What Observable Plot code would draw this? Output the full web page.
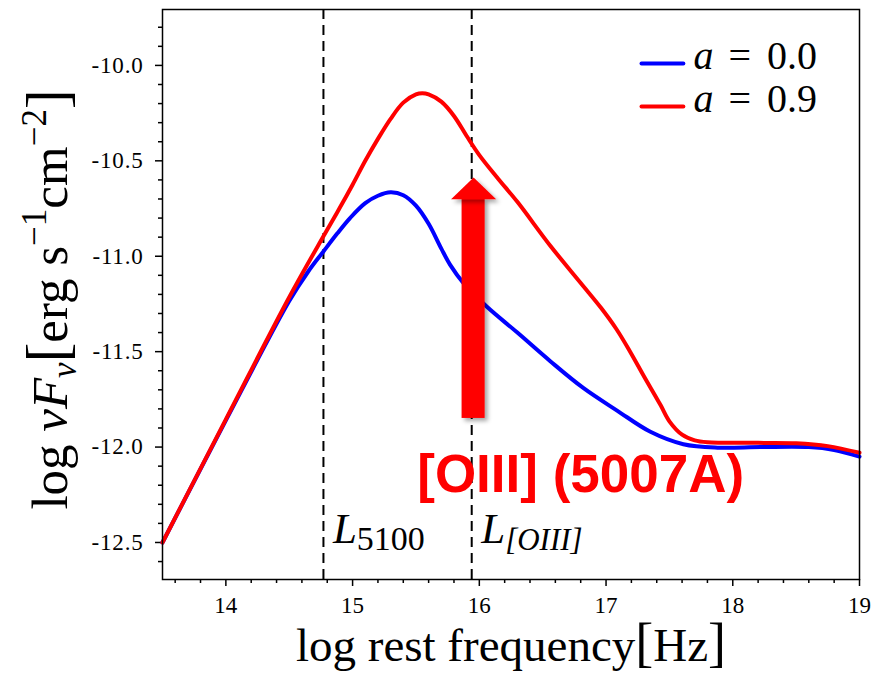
<!DOCTYPE html>
<html><head><meta charset="utf-8">
<script src="https://cdn.jsdelivr.net/npm/d3@7"></script>
<script src="https://cdn.jsdelivr.net/npm/@observablehq/plot@0.6"></script>
<style>body{margin:0;background:#fff;} #chart{width:875px;height:677px;}</style>
</head><body><div id="chart"></div>
<script>
// ---- data ----
const blueX = [13.5, 14.0, 14.5, 14.65, 14.77, 14.88, 14.98, 15.1, 15.2, 15.3, 15.4, 15.5, 15.6, 15.7, 15.77, 15.88, 16.06, 16.3, 16.56, 16.82, 17.09, 17.35, 17.61, 17.88, 18.22, 18.6, 18.8, 19.0];
const blueY = [-12.5, -11.86, -11.235, -11.08, -10.975, -10.88, -10.80, -10.722, -10.683, -10.665, -10.68, -10.735, -10.83, -10.96, -11.045, -11.145, -11.265, -11.40, -11.55, -11.69, -11.81, -11.92, -11.985, -12.003, -12.0, -12.0, -12.015, -12.05];
const redX = [13.5, 14.0, 14.5, 14.77, 14.9, 15.0, 15.1, 15.2, 15.3, 15.4, 15.5, 15.55, 15.6, 15.7, 15.8, 15.9, 16.0, 16.15, 16.3, 16.56, 16.8, 16.96, 17.08, 17.19, 17.3, 17.43, 17.5, 17.6, 17.7, 17.8, 18.2, 18.5, 18.75, 19.0];
const redY = [-12.5, -11.855, -11.215, -10.895, -10.745, -10.625, -10.50, -10.385, -10.28, -10.195, -10.152, -10.146, -10.152, -10.19, -10.265, -10.37, -10.47, -10.595, -10.715, -10.945, -11.14, -11.27, -11.38, -11.50, -11.63, -11.78, -11.865, -11.935, -11.965, -11.975, -11.978, -11.98, -11.995, -12.03];
const seriesNames = ["a = 0.0", "a = 0.9"];
const seriesColors = ["#0000ff", "#ff0000"];
const xTicks = [14, 15, 16, 17, 18, 19];
const xMinorTicks = [13.6, 13.8, 14.2, 14.4, 14.6, 14.8, 15.2, 15.4, 15.6, 15.8, 16.2, 16.4, 16.6, 16.8, 17.2, 17.4, 17.6, 17.8, 18.2, 18.4, 18.6, 18.8];
const yTicks = [-12.5, -12.0, -11.5, -11.0, -10.5, -10.0];
const yMinorTicks = [-12.6, -12.4, -12.3, -12.2, -12.1, -11.9, -11.8, -11.7, -11.6, -11.4, -11.3, -11.2, -11.1, -10.9, -10.8, -10.7, -10.6, -10.4, -10.3, -10.2, -10.1, -9.9, -9.8];
const markerLines = [14.77, 15.94];
const markerNames = ["L5100", "L[OIII]"];
const annotationText = ["[OIII] (5007A)"];
const xLabel = "log rest frequency[Hz]";
const yLabel = "log νFν[erg s−1cm−2]";

// ---- layout constants (annotation geometry) ----
const arrowSpec = {x: 15.955, yBase: -11.85, yHeadBase: -10.702, yTip: -10.587, shaftHalf: 0.091, headHalf: 0.178};
const legendLineX = [17.28, 17.61], legendTextX = 17.69;
const legendLineY = [-9.9895, -10.215], legendTextY = [-10.021, -10.246];

// rich text definitions (plain text -> styled segments)
const rich = {
  [yLabel]: [{t: "log "}, {t: "νF", italic: true}, {t: "ν", italic: true, size: 35, shift: 9}, {t: "[", size: 59}, {t: "erg s"}, {t: "−1", size: 35, shift: -21}, {t: "cm"}, {t: "−2", size: 35, shift: -21}, {t: "]", size: 59}],
  [xLabel]: [{t: "log rest frequency"}, {t: "[", size: 54}, {t: "Hz"}, {t: "]", size: 54}],
  "L5100": [{t: "L", italic: true}, {t: "5100", size: 34, shift: 7}],
  "L[OIII]": [{t: "L", italic: true}, {t: "[OIII]", italic: true, size: 31, shift: 7}],
  "a = 0.0": [{t: "a", italic: true}, {t: " "}, {t: "=", dx: 5}, {t: " "}, {t: "0.0", dx: 6}],
  "a = 0.9": [{t: "a", italic: true}, {t: " "}, {t: "=", dx: 5}, {t: " "}, {t: "0.9", dx: 6}]
};

const blue = blueX.map((x, i) => ({x, y: blueY[i]}));
const red = redX.map((x, i) => ({x, y: redY[i]}));
const shaft = [{x1: arrowSpec.x - arrowSpec.shaftHalf, x2: arrowSpec.x + arrowSpec.shaftHalf, y1: arrowSpec.yBase, y2: arrowSpec.yHeadBase + 0.005}];
const headPts = [
  {x: arrowSpec.x - arrowSpec.headHalf, y: arrowSpec.yHeadBase},
  {x: arrowSpec.x, y: arrowSpec.yTip},
  {x: arrowSpec.x + arrowSpec.headHalf, y: arrowSpec.yHeadBase}
];
const markerLabelData = markerLines.map((x, i) => ({x: x + 0.075, y: -12.505, t: markerNames[i]}));
const legendLines = seriesNames.flatMap((n, i) => legendLineX.map(x => ({x, y: legendLineY[i], s: n, c: seriesColors[i]})));
const legendText = seriesNames.map((n, i) => ({x: legendTextX, y: legendTextY[i], t: n}));

const serif = "'Liberation Serif', 'Times New Roman', serif";
const plot = Plot.plot({
  width: 875, height: 677,
  marginLeft: 162, marginRight: 16, marginTop: 9, marginBottom: 98,
  style: {fontFamily: serif, fontSize: "22px", background: "white", color: "black"},
  x: {domain: [13.5, 19]},
  y: {domain: [-12.694, -9.707]},
  marks: [
    Plot.axisX(xMinorTicks, {tickSize: 4, strokeWidth: 1.5, tickFormat: () => "", label: null}),
    Plot.axisX(xTicks, {tickSize: 7, strokeWidth: 1.5, tickPadding: 10, tickFormat: d => String(d), label: null, fontSize: 23}),
    Plot.axisY(yMinorTicks, {tickSize: 4, strokeWidth: 1.5, tickFormat: () => "", label: null}),
    Plot.axisY(yTicks, {tickSize: 7, strokeWidth: 1.5, tickPadding: 12, tickFormat: d => d.toFixed(1), label: null, fontSize: 23}),
    Plot.ruleX(markerLines, {stroke: "black", strokeWidth: 2, strokeDasharray: "10,6"}),
    Plot.line(blue, {x: "x", y: "y", stroke: seriesColors[0], strokeWidth: 4, curve: "catmull-rom"}),
    Plot.line(red, {x: "x", y: "y", stroke: seriesColors[1], strokeWidth: 4, curve: "catmull-rom"}),
    Plot.rect(shaft, {x1: "x1", x2: "x2", y1: "y1", y2: "y2", fill: "red"}),
    Plot.line(headPts, {x: "x", y: "y", fill: "red", stroke: "none", curve: "linear-closed"}),
    Plot.text(annotationText, {x: 16.80, y: -12.238, text: d => d, fill: "red", fontSize: 53, fontWeight: "bold", fontFamily: "'Liberation Sans', Arial, sans-serif", textAnchor: "middle", lineAnchor: "bottom"}),
    Plot.text(markerLabelData, {x: "x", y: "y", text: "t", fontSize: 43, textAnchor: "start", lineAnchor: "bottom", fill: "black"}),
    Plot.line(legendLines, {x: "x", y: "y", z: "s", stroke: "c", strokeWidth: 4}),
    Plot.text(legendText, {x: "x", y: "y", text: "t", fontSize: 40, textAnchor: "start", lineAnchor: "bottom", fill: "black"}),
    Plot.text([xLabel], {frameAnchor: "bottom", dy: 81, text: d => d, fontSize: 47, textAnchor: "middle", lineAnchor: "bottom", fill: "black"}),
    Plot.text([yLabel], {frameAnchor: "left", dx: -96, dy: 5, rotate: -90, text: d => d, fontSize: 51, textAnchor: "middle", lineAnchor: "bottom", fill: "black"}),
    Plot.frame({stroke: "black", strokeWidth: 1.5})
  ]
});
document.getElementById("chart").appendChild(plot);

const NS = "http://www.w3.org/2000/svg";
// arrow drop shadow via an SVG filter (shaft = the only rect mark, head = the red-filled line)
const defs = document.createElementNS(NS, "defs");
defs.innerHTML = '<filter id="arrowShadow" x="-50%" y="-50%" width="200%" height="200%"><feDropShadow dx="3" dy="3" stdDeviation="2" flood-color="#000" flood-opacity="0.35"/></filter>';
plot.insertBefore(defs, plot.firstChild);
plot.querySelectorAll('g[aria-label="rect"], g[aria-label="line"][fill="red"]').forEach(g => g.setAttribute("filter", "url(#arrowShadow)"));
// slightly wider tick label glyph spacing, like the reference
plot.querySelectorAll('g[aria-label="y-axis tick label"] text').forEach(t => t.setAttribute("letter-spacing", "0.8"));

// styled sub/superscripts
plot.querySelectorAll("text").forEach(el => {
  const segs = rich[el.textContent];
  if (!segs) return;
  while (el.firstChild) el.removeChild(el.firstChild);
  let cur = 0;
  for (const s of segs) {
    const ts = document.createElementNS(NS, "tspan");
    ts.textContent = s.t;
    const shift = s.shift || 0;
    if (shift !== cur) { ts.setAttribute("dy", shift - cur); cur = shift; }
    if (s.dx) ts.setAttribute("dx", s.dx);
    if (s.italic) ts.setAttribute("font-style", "italic");
    if (s.size) ts.setAttribute("font-size", s.size);
    el.appendChild(ts);
  }
});
</script>
</body></html>
